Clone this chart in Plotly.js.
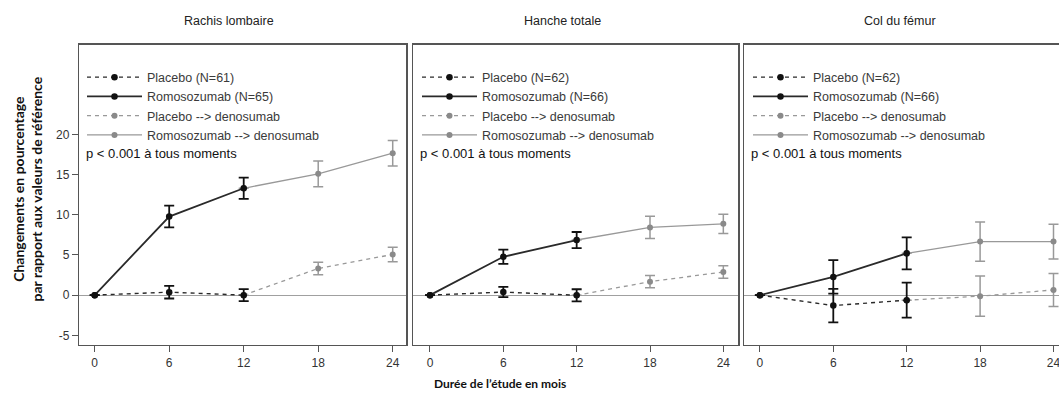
<!DOCTYPE html>
<html>
<head>
<meta charset="utf-8">
<script src="https://cdn.plot.ly/plotly-3.0.1.min.js"></script>
<style>
html,body{margin:0;padding:0;background:#fff;}
#chart{width:1059px;height:394px;}
</style>
</head>
<body>
<div id="chart"></div>
<script>
// ---- data ----
const panelTitles = ["Rachis lombaire", "Hanche totale", "Col du fémur"];
const monthsPhase1 = [0, 6, 12];
const monthsPhase2 = [12, 18, 24];
const xTicks = [0, 6, 12, 18, 24];
const yTicks = [-5, 0, 5, 10, 15, 20];

const placeboNames = ["Placebo (N=61)", "Placebo (N=62)", "Placebo (N=62)"];
const romoNames = ["Romosozumab (N=65)", "Romosozumab (N=66)", "Romosozumab (N=66)"];
const placeboDenoName = "Placebo --> denosumab";
const romoDenoName = "Romosozumab --> denosumab";
const pValueText = "p < 0.001 à tous moments";

// Rachis lombaire
const lumbarPlacebo = [0, 0.37, 0];
const lumbarPlaceboErr = [null, 0.79, 0.75];
const lumbarRomo = [0, 9.78, 13.3];
const lumbarRomoErr = [null, 1.35, 1.33];
const lumbarPlaceboDeno = [0, 3.32, 5.06];
const lumbarPlaceboDenoErr = [null, 0.77, 0.91];
const lumbarRomoDeno = [13.3, 15.1, 17.66];
const lumbarRomoDenoErr = [null, 1.6, 1.6];

// Hanche totale
const hipPlacebo = [0, 0.38, -0.02];
const hipPlaceboErr = [null, 0.64, 0.75];
const hipRomo = [0, 4.77, 6.86];
const hipRomoErr = [null, 0.89, 1.0];
const hipPlaceboDeno = [-0.02, 1.68, 2.88];
const hipPlaceboDenoErr = [null, 0.75, 0.79];
const hipRomoDeno = [6.86, 8.43, 8.87];
const hipRomoDenoErr = [null, 1.39, 1.2];

// Col du fémur
const neckPlacebo = [0, -1.3, -0.63];
const neckPlaceboErr = [null, 2.09, 2.18];
const neckRomo = [0, 2.27, 5.2];
const neckRomoErr = [null, 2.09, 1.99];
const neckPlaceboDeno = [-0.63, -0.13, 0.65];
const neckPlaceboDenoErr = [null, 2.5, 2.05];
const neckRomoDeno = [5.2, 6.66, 6.67];
const neckRomoDenoErr = [null, 2.43, 2.16];

const panels = [
  {pl: lumbarPlacebo, plE: lumbarPlaceboErr, ro: lumbarRomo, roE: lumbarRomoErr,
   pd: lumbarPlaceboDeno, pdE: lumbarPlaceboDenoErr, rd: lumbarRomoDeno, rdE: lumbarRomoDenoErr},
  {pl: hipPlacebo, plE: hipPlaceboErr, ro: hipRomo, roE: hipRomoErr,
   pd: hipPlaceboDeno, pdE: hipPlaceboDenoErr, rd: hipRomoDeno, rdE: hipRomoDenoErr},
  {pl: neckPlacebo, plE: neckPlaceboErr, ro: neckRomo, roE: neckRomoErr,
   pd: neckPlaceboDeno, pdE: neckPlaceboDenoErr, rd: neckRomoDeno, rdE: neckRomoDenoErr}
];

// ---- styling ----
const W = 1059, H = 394;
const BLACK = "#111111", DARK = "#2a2a2a", GREY = "#999999", GREYM = "#8a8a8a";
const sans = "'Liberation Sans', Arial, sans-serif";
const bold = "Lato, 'Open Sans', sans-serif";

const xDomains = [[79.3 / W, 406 / W], [413 / W, 738 / W], [744 / W, 1]];
const xRanges = [[-1.24, 25.07], [-1.39, 25.2], [-1.3, 24.45]];
const yDomain = [1 - 344.7 / H, 1 - 44.7 / H];
const yRange = [-6.17, 31.17];
const legendX = [82 / W, 417 / W, 748 / W];
const legendY = 1 - 62.5 / H;
const titleX = [229, 562, 900];

const traces = [];
panels.forEach((p, i) => {
  const xa = i === 0 ? "x" : "x" + (i + 1);
  const ya = i === 0 ? "y" : "y" + (i + 1);
  const lg = i === 0 ? "legend" : "legend" + (i + 1);
  // grey (phase 2) traces first so black ones sit on top
  traces.push({
    type: "scatter", mode: "lines+markers", xaxis: xa, yaxis: ya, legend: lg, legendrank: 3,
    name: placeboDenoName, x: monthsPhase2, y: p.pd,
    line: {color: GREY, width: 1.3, dash: "4px,4px"},
    marker: {color: GREYM, size: 6},
    error_y: {type: "data", array: p.pdE, visible: true, color: GREY, thickness: 1.5, width: 5}
  });
  traces.push({
    type: "scatter", mode: "lines+markers", xaxis: xa, yaxis: ya, legend: lg, legendrank: 4,
    name: romoDenoName, x: monthsPhase2, y: p.rd,
    line: {color: GREY, width: 1.3},
    marker: {color: GREYM, size: 6},
    error_y: {type: "data", array: p.rdE, visible: true, color: GREY, thickness: 1.5, width: 5}
  });
  traces.push({
    type: "scatter", mode: "lines+markers", xaxis: xa, yaxis: ya, legend: lg, legendrank: 1,
    name: placeboNames[i], x: monthsPhase1, y: p.pl,
    line: {color: DARK, width: 1.4, dash: "4px,4px"},
    marker: {color: BLACK, size: 6.5},
    error_y: {type: "data", array: p.plE, visible: true, color: BLACK, thickness: 1.8, width: 5}
  });
  traces.push({
    type: "scatter", mode: "lines+markers", xaxis: xa, yaxis: ya, legend: lg, legendrank: 2,
    name: romoNames[i], x: monthsPhase1, y: p.ro,
    line: {color: DARK, width: 1.8},
    marker: {color: BLACK, size: 6.5},
    error_y: {type: "data", array: p.roE, visible: true, color: BLACK, thickness: 1.8, width: 5}
  });
});

const layout = {
  width: W, height: H,
  margin: {l: 0, r: 0, t: 0, b: 0},
  paper_bgcolor: "#fff", plot_bgcolor: "#fff",
  showlegend: true,
  annotations: [],
  font: {family: sans, color: "#333"}
};

[0, 1, 2].forEach(i => {
  const sfx = i === 0 ? "" : String(i + 1);
  layout["xaxis" + sfx] = {
    domain: xDomains[i], range: xRanges[i], anchor: "y" + sfx,
    tickvals: xTicks, ticktext: xTicks.map(String),
    ticks: "outside", ticklen: 6, tickcolor: "#555", tickwidth: 1,
    ticklabeloverflow: "allow",
    showgrid: false, zeroline: false,
    showline: true, mirror: true, linecolor: "#555", linewidth: 1.5,
    tickfont: {family: sans, size: 12, color: "#333"}, fixedrange: true
  };
  layout["yaxis" + sfx] = {
    domain: yDomain, range: yRange, anchor: "x" + sfx,
    tickvals: yTicks, ticktext: yTicks.map(String),
    ticks: i === 0 ? "outside" : "", ticklen: 6, tickcolor: "#555", tickwidth: 1,
    showticklabels: i === 0,
    showgrid: false,
    zeroline: true, zerolinecolor: "#a0a0a0", zerolinewidth: 1,
    showline: true, mirror: i < 2, linecolor: "#555", linewidth: 1.5,
    tickfont: {family: sans, size: 12, color: "#333"}, fixedrange: true
  };
  layout[i === 0 ? "legend" : "legend" + (i + 1)] = {
    x: legendX[i], y: legendY, xref: "paper", yref: "paper",
    xanchor: "left", yanchor: "top",
    bgcolor: "rgba(0,0,0,0)", borderwidth: 0,
    itemwidth: 55, traceorder: "normal",
    font: {family: sans, size: 12.5, color: "#3a3a3a"},
    itemclick: false, itemdoubleclick: false
  };
  layout.annotations.push({
    text: panelTitles[i], xref: "paper", yref: "paper",
    x: titleX[i] / W, y: 1 - 21 / H, showarrow: false, xanchor: "center", yanchor: "middle",
    font: {family: sans, size: 12.5, color: "#222"}
  });
  layout.annotations.push({
    text: pValueText, xref: "x" + sfx + " domain", yref: "paper",
    x: 0, xshift: 5, y: 1 - 154 / H, showarrow: false, xanchor: "left", yanchor: "middle",
    font: {family: sans, size: 13, color: "#111"}
  });
});

layout.annotations.push({
  text: "Changements en pourcentage<br>par rapport aux valeurs de référence",
  xref: "paper", yref: "paper", x: 27.5 / W, y: 1 - 189 / H,
  showarrow: false, textangle: -90, xanchor: "center", yanchor: "middle",
  font: {family: bold, size: 14, color: "#111", weight: "bold"}
});
layout.annotations.push({
  text: "Durée de l’étude en mois",
  xref: "paper", yref: "paper", x: 500 / W, y: 1 - 383 / H,
  showarrow: false, xanchor: "center", yanchor: "middle",
  font: {family: bold, size: 12, color: "#111", weight: "bold"}
});

Plotly.newPlot("chart", traces, layout, {staticPlot: true, displayModeBar: false});
</script>
</body>
</html>
